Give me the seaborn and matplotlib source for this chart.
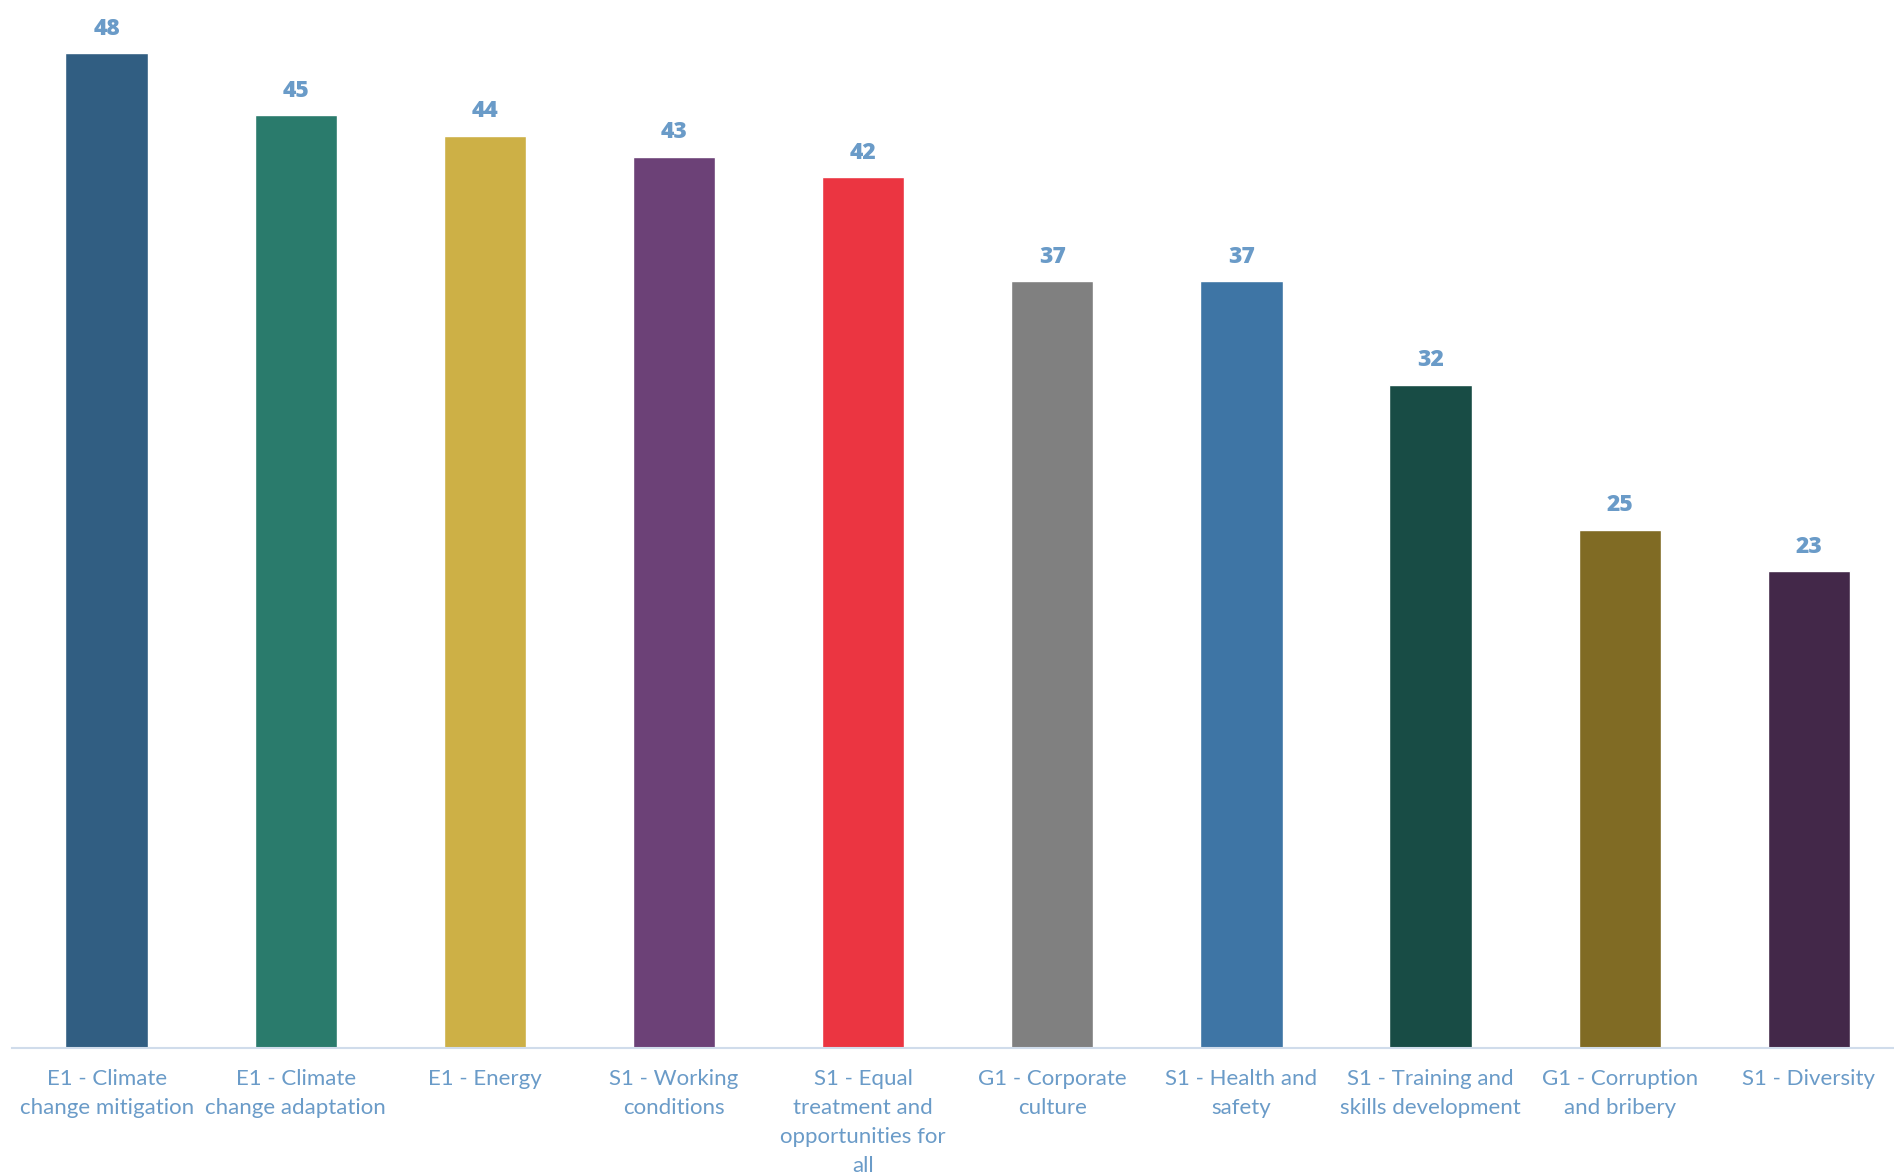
import matplotlib
matplotlib.use("Agg")
import matplotlib.pyplot as plt
import seaborn as sns
import pandas as pd

# chart data
categories = [
    "E1 - Climate\nchange mitigation",
    "E1 - Climate\nchange adaptation",
    "E1 - Energy",
    "S1 - Working\nconditions",
    "S1 - Equal\ntreatment and\nopportunities for\nall",
    "G1 - Corporate\nculture",
    "S1 - Health and\nsafety",
    "S1 - Training and\nskills development",
    "G1 - Corruption\nand bribery",
    "S1 - Diversity",
]
values = [48, 45, 44, 43, 42, 37, 37, 32, 25, 23]
bar_colors = ["#315E82", "#2A7B6C", "#CDB046", "#6C4177", "#EB3541",
              "#808080", "#3E75A5", "#184C45", "#806B24", "#432849"]

label_color = "#6A9BC8"

sns.set_style("white")
plt.rcParams["font.family"] = ["Lato", "DejaVu Sans"]

df = pd.DataFrame({"category": categories, "value": values})

fig = plt.figure(figsize=(18.94, 11.75), dpi=100)
ax = fig.add_axes([12 / 1894, (1175 - 1048) / 1175, 1 - 12 / 1894, 1048 / 1175])

sns.barplot(data=df, x="category", y="value", hue="category",
            palette=bar_colors, width=0.435, legend=False, ax=ax, saturation=1)

# value labels
for i, v in enumerate(values):
    ax.annotate(str(v), (i, v), xytext=(0, 17.5), textcoords="offset points",
                ha="center", va="center", color=label_color,
                fontsize=16.5, fontweight="heavy", family=["Open Sans", "DejaVu Sans"])

ax.set_xlim(-0.5, 9.45)
ax.set_ylim(0, 50.55)
ax.set_xlabel("")
ax.set_ylabel("")
ax.set_yticks([])
for s in ["top", "right", "left"]:
    ax.spines[s].set_visible(False)
ax.spines["bottom"].set_color("#D0DCEB")
ax.spines["bottom"].set_linewidth(1.5)
ax.tick_params(axis="x", length=0, pad=15, labelsize=16, labelcolor=label_color)
for t in ax.get_xticklabels():
    t.set_linespacing(1.56)

fig.savefig("out.png", dpi=100)
